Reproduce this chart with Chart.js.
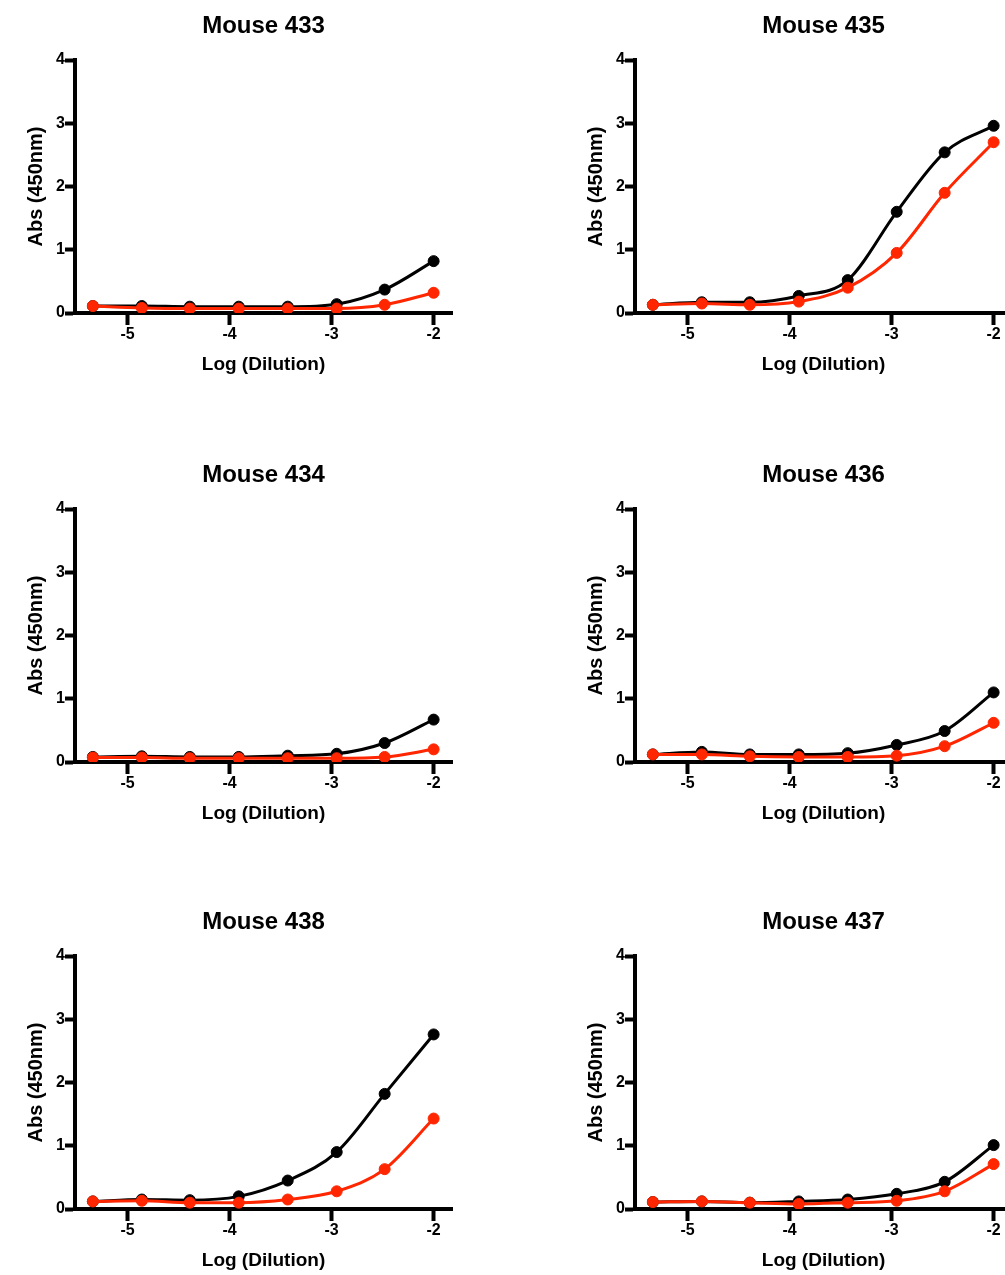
<!DOCTYPE html>
<html>
<head>
<meta charset="utf-8">
<script src="https://cdn.jsdelivr.net/npm/chart.js@4.4.0/dist/chart.umd.min.js"></script>
<style>
    html, body { margin: 0; padding: 0; background: #fff; width: 1005px; height: 1275px; overflow: hidden; }
    .panel { position: absolute; width: 470px; height: 380px; }
</style>
</head>
<body>
<div class="panel" style="left:0px;top:0px"><canvas id="m433" width="470" height="380"></canvas></div>
<div class="panel" style="left:560px;top:0px"><canvas id="m435" width="470" height="380"></canvas></div>
<div class="panel" style="left:0px;top:449px"><canvas id="m434" width="470" height="380"></canvas></div>
<div class="panel" style="left:560px;top:449px"><canvas id="m436" width="470" height="380"></canvas></div>
<div class="panel" style="left:0px;top:896px"><canvas id="m438" width="470" height="380"></canvas></div>
<div class="panel" style="left:560px;top:896px"><canvas id="m437" width="470" height="380"></canvas></div>

<script>
// x values: log of the 3-fold dilution series (1:218700 ... 1:100)
const logDilution = [-5.34, -4.86, -4.39, -3.91, -3.43, -2.95, -2.48, -2.0];
const xTicks = [-5, -4, -3, -2];
const yTicks = [0, 1, 2, 3, 4];

// absorbance values, black and red series per mouse
const mouse433Black = [0.11, 0.11, 0.10, 0.10, 0.10, 0.14, 0.37, 0.82];
const mouse433Red   = [0.11, 0.08, 0.07, 0.07, 0.07, 0.07, 0.13, 0.32];
const mouse435Black = [0.13, 0.17, 0.17, 0.27, 0.52, 1.60, 2.54, 2.96];
const mouse435Red   = [0.13, 0.15, 0.13, 0.18, 0.40, 0.95, 1.90, 2.70];
const mouse434Black = [0.08, 0.09, 0.08, 0.08, 0.10, 0.13, 0.30, 0.67];
const mouse434Red   = [0.07, 0.07, 0.06, 0.06, 0.06, 0.06, 0.08, 0.20];
const mouse436Black = [0.12, 0.16, 0.12, 0.12, 0.14, 0.27, 0.49, 1.10];
const mouse436Red   = [0.12, 0.12, 0.09, 0.08, 0.08, 0.10, 0.25, 0.62];
const mouse438Black = [0.12, 0.15, 0.14, 0.20, 0.45, 0.90, 1.82, 2.76];
const mouse438Red   = [0.12, 0.13, 0.10, 0.10, 0.15, 0.28, 0.63, 1.43];
const mouse437Black = [0.11, 0.12, 0.10, 0.12, 0.15, 0.24, 0.43, 1.01];
const mouse437Red   = [0.11, 0.12, 0.10, 0.08, 0.10, 0.13, 0.28, 0.71];

const BLACK = '#000000';
const RED = '#ff2600';
const FONT = '"Liberation Sans", Arial, Helvetica, sans-serif';

Chart.defaults.color = '#000';
Chart.defaults.font.family = FONT;

function toPoints(values) {
    return values.map((v, i) => ({ x: logDilution[i], y: v }));
}

function series(values, color, order) {
    return {
        data: toPoints(values),
        borderColor: color,
        backgroundColor: color,
        borderWidth: 3,
        pointRadius: 5.5,
        pointBorderWidth: 1,
        pointHoverRadius: 5.5,
        cubicInterpolationMode: 'monotone',
        order: order
    };
}

function makeChart(id, title, black, red) {
    const ctx = document.getElementById(id).getContext('2d');
    new Chart(ctx, {
        type: 'line',
        data: {
            datasets: [
                series(red, RED, 1),
                series(black, BLACK, 2)
            ]
        },
        options: {
            responsive: false,
            animation: false,
            layout: { padding: { left: 0, right: 18, top: 0, bottom: 0 } },
            plugins: {
                legend: { display: false },
                tooltip: { enabled: false },
                title: {
                    display: true,
                    text: title,
                    fullSize: false,
                    color: '#000',
                    font: { family: FONT, size: 24, weight: 'bold' },
                    padding: { top: 11.6, bottom: 19.6 }
                }
            },
            scales: {
                x: {
                    type: 'linear',
                    min: -5.515,
                    max: -1.82,
                    grid: { drawOnChartArea: false, drawTicks: true, tickLength: 12, tickWidth: 4, tickColor: '#000' },
                    border: { display: true, width: 4, color: '#000' },
                    ticks: { padding: 0, color: '#000', font: { family: FONT, size: 16, weight: 'bold' } },
                    afterBuildTicks: axis => { axis.ticks = xTicks.map(v => ({ value: v })); },
                    afterFit: scale => { scale.height = 67; },
                    title: {
                        display: true,
                        text: 'Log (Dilution)',
                        color: '#000',
                        font: { family: FONT, size: 19, weight: 'bold' },
                        padding: { top: 0, bottom: 3.6 }
                    }
                },
                y: {
                    type: 'linear',
                    min: 0,
                    max: 4,
                    grid: { drawOnChartArea: false, drawTicks: true, tickLength: 10, tickWidth: 4, tickColor: '#000' },
                    border: { display: true, width: 4, color: '#000' },
                    ticks: { padding: 0, color: '#000', font: { family: FONT, size: 16, weight: 'bold' } },
                    afterBuildTicks: axis => { axis.ticks = yTicks.map(v => ({ value: v })); },
                    afterFit: scale => { scale.width = 75; },
                    title: {
                        display: true,
                        text: 'Abs (450nm)',
                        color: '#000',
                        font: { family: FONT, size: 20, weight: 'bold' },
                        padding: { top: 24, bottom: 0 }
                    }
                }
            }
        }
    });
}

makeChart('m433', 'Mouse 433', mouse433Black, mouse433Red);
makeChart('m435', 'Mouse 435', mouse435Black, mouse435Red);
makeChart('m434', 'Mouse 434', mouse434Black, mouse434Red);
makeChart('m436', 'Mouse 436', mouse436Black, mouse436Red);
makeChart('m438', 'Mouse 438', mouse438Black, mouse438Red);
makeChart('m437', 'Mouse 437', mouse437Black, mouse437Red);
</script>
</body>
</html>
